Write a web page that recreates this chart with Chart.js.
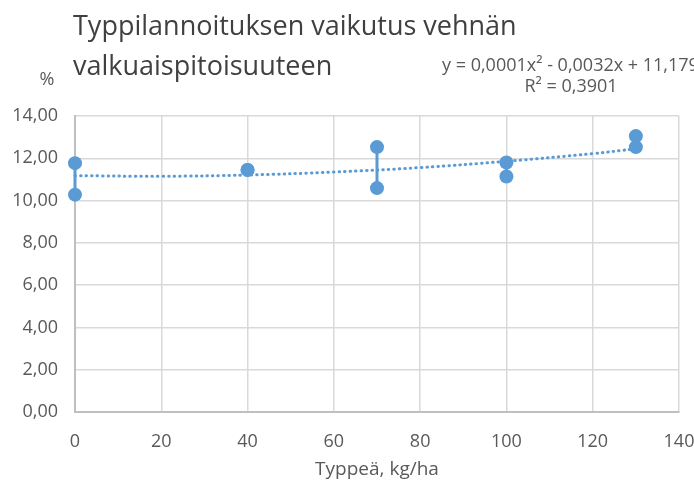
<!DOCTYPE html>
<html>
<head>
<meta charset="utf-8">
<script src="https://cdn.jsdelivr.net/npm/chart.js@4/dist/chart.umd.min.js"></script>
<style>
  body { margin: 0; background: #fff; }
  #wrap { width: 694px; height: 485px; }
</style>
</head>
<body>
<div id="wrap"><canvas id="proteinChart" width="694" height="485"></canvas></div>
<script>
// Typpitasot (kg/ha) ja kunkin tason ylin / alin valkuaispitoisuus (%)
const nitrogenLevels = [0, 40, 70, 100, 130];
const proteinHigh = [11.77, 11.45, 12.53, 11.80, 13.05];
const proteinLow = [10.28, 11.45, 10.59, 11.14, 12.53];

// Trendiviiva luettuna kuvasta
const trendX = [0, 20, 40, 60, 80, 100, 120, 130];
const trendY = [11.18, 11.15, 11.21, 11.35, 11.56, 11.86, 12.22, 12.45];

const titleLines = ['Typpilannoituksen vaikutus vehnän', 'valkuaispitoisuuteen'];
const equationText = 'y = 0,0001x² - 0,0032x + 11,179';
const rSquaredText = 'R² = 0,3901';
const yUnit = '%';
const xTitle = 'Typpeä, kg/ha';

const blue = '#5b9bd5';
const fontFamily = "'Open Sans', sans-serif";

const datasets = nitrogenLevels.map((n, i) => ({
    label: 'N ' + n,
    data: [{ x: n, y: proteinHigh[i] }, { x: n, y: proteinLow[i] }],
    showLine: true,
    clip: false,
    borderColor: blue,
    backgroundColor: blue,
    borderWidth: 3,
    pointRadius: 7,
    pointHoverRadius: 7,
    pointBorderWidth: 0,
    order: 1
}));

datasets.push({
    label: 'Trendi',
    data: trendX.map((x, i) => ({ x: x, y: trendY[i] })),
    showLine: true,
    clip: false,
    borderColor: blue,
    borderWidth: 3,
    borderDash: [0.5, 5],
    borderCapStyle: 'round',
    tension: 0.4,
    pointRadius: 0,
    order: 2
});

const textPlugin = {
    id: 'extraText',
    afterDraw(chart) {
        const ctx = chart.ctx;
        ctx.save();
        ctx.textBaseline = 'middle';
        ctx.fillStyle = '#404040';
        ctx.font = '27px ' + fontFamily;
        ctx.textAlign = 'left';
        ctx.fillText(titleLines[0], 73, 27);
        ctx.fillText(titleLines[1], 73, 67);

        ctx.fillStyle = '#595959';
        ctx.font = '18px ' + fontFamily;
        ctx.textAlign = 'center';
        ctx.fillText(yUnit, 47, 80);

        ctx.font = '18px ' + fontFamily;
        ctx.textAlign = 'left';
        ctx.fillText(equationText, 442, 66);
        ctx.textAlign = 'center';
        ctx.fillText(rSquaredText, 571, 87);
        ctx.restore();
    }
};

new Chart(document.getElementById('proteinChart').getContext('2d'), {
    type: 'scatter',
    data: { datasets: datasets },
    options: {
        responsive: false,
        animation: false,
        layout: { padding: { top: 116, right: 0, left: 0, bottom: 0 } },
        plugins: {
            legend: { display: false },
            tooltip: { enabled: false }
        },
        scales: {
            x: {
                type: 'linear',
                min: 0,
                max: 140,
                afterFit: s => { s.height = 73; s.paddingRight = 15; },
                ticks: {
                    stepSize: 20,
                    padding: 19,
                    color: '#595959',
                    font: { family: fontFamily, size: 18 }
                },
                grid: { color: '#d9d9d9', lineWidth: 1.5, drawTicks: false },
                border: { color: '#bfbfbf', width: 2 },
                title: {
                    display: true,
                    text: xTitle,
                    color: '#595959',
                    font: { family: fontFamily, size: 19 },
                    padding: { top: 0, bottom: 4 }
                }
            },
            y: {
                min: 0,
                max: 14,
                afterFit: s => { s.width = 75; },
                ticks: {
                    stepSize: 2,
                    padding: 17,
                    color: '#595959',
                    font: { family: fontFamily, size: 18 },
                    callback: v => v.toFixed(2).replace('.', ',')
                },
                grid: { color: '#d9d9d9', lineWidth: 1.5, drawTicks: false },
                border: { color: '#bfbfbf', width: 2 }
            }
        }
    },
    plugins: [textPlugin]
});
</script>
</body>
</html>
